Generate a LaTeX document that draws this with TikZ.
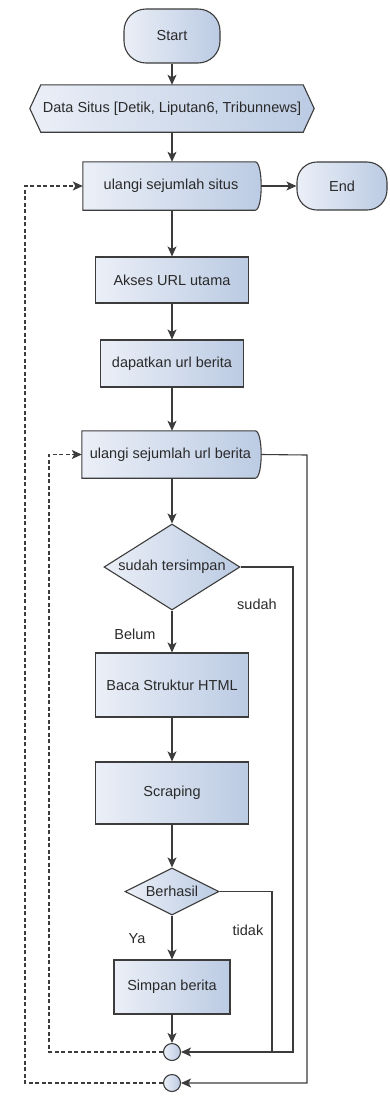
\documentclass[tikz,border=0pt]{standalone}
\usepackage{fontspec}
\setmainfont{Liberation Sans}
\usetikzlibrary{shapes.geometric,arrows.meta,backgrounds}
\definecolor{edge}{HTML}{3C3C3C}
\definecolor{ink}{HTML}{2A2A2A}
\definecolor{fillA}{HTML}{EBEFF7}
\definecolor{fillB}{HTML}{BBCBE3}
\tikzset{
  base/.style={font=\fontsize{14.5}{16}\selectfont, text=ink, inner sep=1pt},
  boxfill/.style={left color=fillA, right color=fillB},
  outline/.style={draw=edge, line width=1.1pt},
  procbox/.style={base, rectangle, outline, boxfill},
  termbox/.style={base, rectangle, rounded corners=20pt, outline, boxfill},
  decbox/.style={base, diamond, outline, boxfill, inner sep=1pt},
  joinpt/.style={circle, outline, boxfill, minimum size=17pt, inner sep=0pt},
  plainbox/.style={base, rectangle},
  lbl/.style={font=\fontsize{14.5}{16}\selectfont, text=ink, inner sep=0pt},
  arr/.style={draw=edge, line width=1.1pt, -{Stealth[length=10pt,width=9pt,inset=2.5pt]}},
  link/.style={draw=edge, line width=1.1pt},
  darr/.style={arr, dash pattern=on 4pt off 2.5pt},
}
\begin{document}
\begin{tikzpicture}[x=1pt, y=-1pt]
\useasboundingbox (0,0) rectangle (390,1101);

% terminals
\node[termbox, minimum width=96pt, minimum height=54pt, rounded corners=22pt] (start) at (172,36) {Start};
\node[termbox, minimum width=90pt, minimum height=48pt] (end) at (342,186) {End};

% data display
\node[plainbox, minimum width=284pt, minimum height=47pt] (data) at (172,108.5) {Data Situs [Detik, Liputan6, Tribunnews]};

% loop limits
\node[plainbox, minimum width=176pt, minimum height=48pt] (loopA) at (171,186) {ulangi sejumlah situs};
\node[plainbox, minimum width=177pt, minimum height=47pt] (loopB) at (170.5,454.5) {ulangi sejumlah url berita};

% processes
\node[procbox, minimum width=153pt, minimum height=46pt] (akses) at (172,280) {Akses URL utama};
\node[procbox, minimum width=143pt, minimum height=47pt] (dapat) at (172,363.5) {dapatkan url berita};
\node[decbox, minimum width=136pt, minimum height=86pt, aspect=1.58] (cek) at (172,567) {sudah tersimpan};
\node[procbox, minimum width=153pt, minimum height=64pt] (baca) at (172,685) {Baca Struktur HTML};
\node[procbox, minimum width=153pt, minimum height=62pt] (scrap) at (172,793) {Scraping};
\node[decbox, minimum width=94pt, minimum height=47pt, aspect=2] (hasil) at (172,891.5) {Berhasil};
\node[procbox, minimum width=116pt, minimum height=54pt] (simpan) at (172,987) {Simpan berita};

% connectors
\node[joinpt] (j1) at (172,1052) {};
\node[joinpt] (j2) at (172,1083) {};

% branch labels
\node[lbl] (lsudah) at (257,604) {sudah};
\node[lbl] (lbelum) at (135,634) {Belum};
\node[lbl] (ltidak) at (248,930) {tidak};
\node[lbl] (lya) at (137,939) {Ya};

% outlines drawn behind the text
\begin{scope}[on background layer]
  \path[outline, boxfill]
    (data.west) -- ([xshift=11pt]data.north west) -- ([xshift=-11pt]data.north east)
    -- (data.east) -- ([xshift=-11pt]data.south east) -- ([xshift=11pt]data.south west) -- cycle;
  \path[outline, boxfill]
    (loopA.north west) -- ([xshift=-4pt]loopA.north east)
    .. controls ([xshift=4pt]loopA.north east) and ([xshift=4pt]loopA.south east) .. ([xshift=-4pt]loopA.south east)
    -- (loopA.south west) -- cycle;
  \path[outline, boxfill]
    (loopB.north west) -- ([xshift=-4pt]loopB.north east)
    .. controls ([xshift=4pt]loopB.north east) and ([xshift=4pt]loopB.south east) .. ([xshift=-4pt]loopB.south east)
    -- (loopB.south west) -- cycle;
\end{scope}

% route corners
\coordinate (rA) at (293,567);
\coordinate (rB) at (272,891.5);
\coordinate (rC) at (307,455);
\coordinate (dA) at (49,1052);
\coordinate (dB) at (25,1083);

% main flow
\draw[arr] (start.south) -- (start.south |- data.north);
\draw[arr] (data.south) -- (data.south |- loopA.north);
\draw[arr] ([xshift=2pt]loopA.east) -- (end.west);
\draw[arr] (akses.north |- loopA.south) -- (akses.north);
\draw[arr] (akses.south) -- (dapat.north);
\draw[arr] (dapat.south) -- (dapat.south |- loopB.north);
\draw[arr] (cek.north |- loopB.south) -- (cek.north);
\draw[arr] (cek.south) -- (baca.north);
\draw[arr] (baca.south) -- (scrap.north);
\draw[arr] (scrap.south) -- (hasil.north);
\draw[arr] (hasil.south) -- (simpan.north);
\draw[arr] (simpan.south) -- (j1.north);

% branches back to the joins
\draw[arr] (cek.east) -- (rA) |- (j1.east);
\draw[link] (hasil.east) -- (rB) -- (rB |- j1.east);
\draw[arr] ([xshift=2pt]loopB.east) -- (rC) |- (j2.east);

% loop returns
\draw[darr] (j1.west) -- (dA) |- (loopB.west);
\draw[darr] (j2.west) -- (dB) |- (loopA.west);
\end{tikzpicture}
\end{document}
